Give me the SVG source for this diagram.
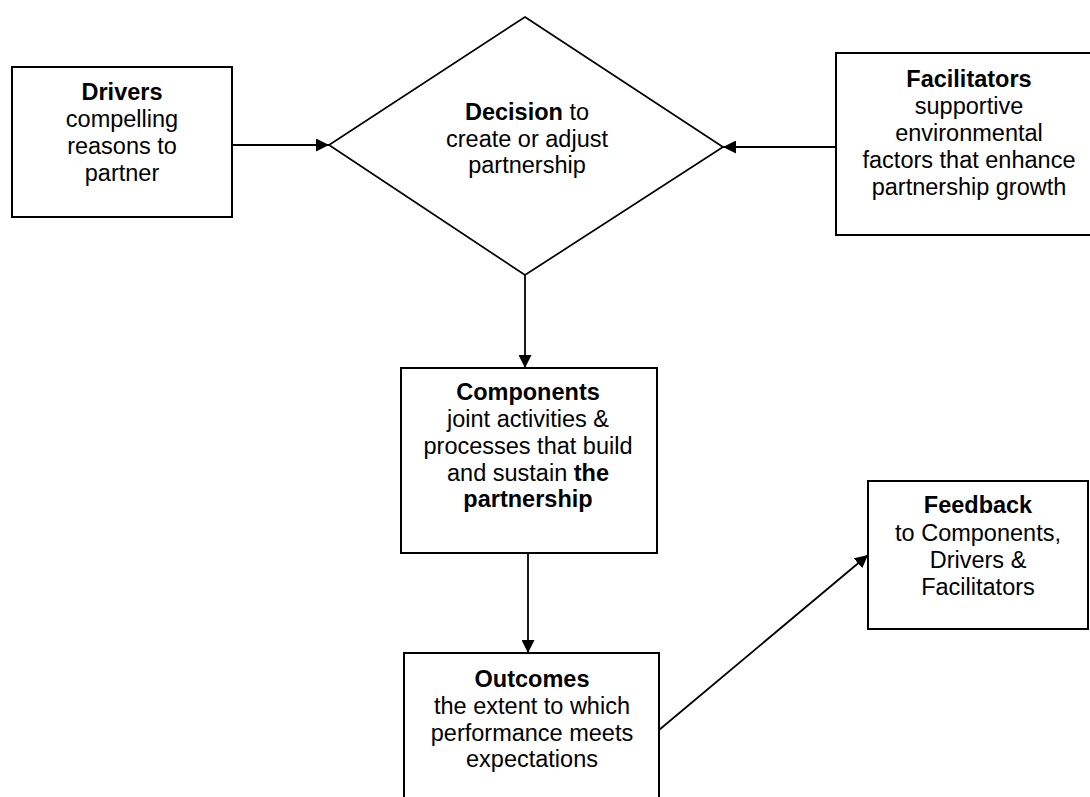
<svg xmlns="http://www.w3.org/2000/svg" width="1090" height="797" viewBox="0 0 1090 797">
  <style>
    .box { fill: #ffffff; stroke: #000000; stroke-width: 2; }
    .diamond { fill: #ffffff; stroke: #000000; stroke-width: 1.7; }
    .edge { fill: none; stroke: #000000; stroke-width: 1.8; }
    text { font-family: "Liberation Sans", Arial, sans-serif; font-size: 23.5px; fill: #000000; text-anchor: middle; }
    .b { font-weight: bold; }
  </style>
  <defs>
    <marker id="arrow" viewBox="0 0 13 13" refX="13" refY="6.5" markerWidth="13" markerHeight="13" markerUnits="userSpaceOnUse" orient="auto">
      <path d="M0,0 L13,6.5 L0,13 Z" fill="#000000"/>
    </marker>
  </defs>

  <!-- connectors -->
  <g id="connectors">
    <line class="edge" x1="232" y1="145" x2="329" y2="145" marker-end="url(#arrow)"/>
    <line class="edge" x1="836" y1="147" x2="723" y2="147" marker-end="url(#arrow)"/>
    <line class="edge" x1="525" y1="275" x2="525" y2="368" marker-end="url(#arrow)"/>
    <line class="edge" x1="528" y1="553" x2="528" y2="653" marker-end="url(#arrow)"/>
    <line class="edge" x1="659" y1="730" x2="868" y2="555" marker-end="url(#arrow)"/>
  </g>

  <!-- Drivers -->
  <g id="drivers">
    <rect class="box" x="12" y="67" width="220" height="150"/>
    <text x="122" y="100" class="b">Drivers</text>
    <text x="122" y="127">compelling</text>
    <text x="122" y="154">reasons to</text>
    <text x="122" y="181">partner</text>
  </g>

  <!-- Decision -->
  <g id="decision">
    <polygon class="diamond" points="525,17 723,147 525,275 329,145"/>
    <text x="527" y="120"><tspan class="b">Decision</tspan> to</text>
    <text x="527" y="147">create or adjust</text>
    <text x="527" y="173">partnership</text>
  </g>

  <!-- Facilitators -->
  <g id="facilitators">
    <rect class="box" x="836" y="53" width="268" height="182"/>
    <text x="969" y="87" class="b">Facilitators</text>
    <text x="969" y="114">supportive</text>
    <text x="969" y="141">environmental</text>
    <text x="969" y="168">factors that enhance</text>
    <text x="969" y="195">partnership growth</text>
  </g>

  <!-- Components -->
  <g id="components">
    <rect class="box" x="401" y="368" width="256" height="185"/>
    <text x="528" y="400" class="b">Components</text>
    <text x="528" y="427">joint activities &amp;</text>
    <text x="528" y="454">processes that build</text>
    <text x="528" y="481">and sustain <tspan class="b">the</tspan></text>
    <text x="528" y="507" class="b">partnership</text>
  </g>

  <!-- Outcomes -->
  <g id="outcomes">
    <rect class="box" x="404" y="653" width="255" height="160"/>
    <text x="532" y="687" class="b">Outcomes</text>
    <text x="532" y="714">the extent to which</text>
    <text x="532" y="741">performance meets</text>
    <text x="532" y="767">expectations</text>
  </g>

  <!-- Feedback -->
  <g id="feedback">
    <rect class="box" x="868" y="481" width="220" height="148"/>
    <text x="978" y="513" class="b">Feedback</text>
    <text x="978" y="541">to Components,</text>
    <text x="978" y="568">Drivers &amp;</text>
    <text x="978" y="595">Facilitators</text>
  </g>
</svg>
